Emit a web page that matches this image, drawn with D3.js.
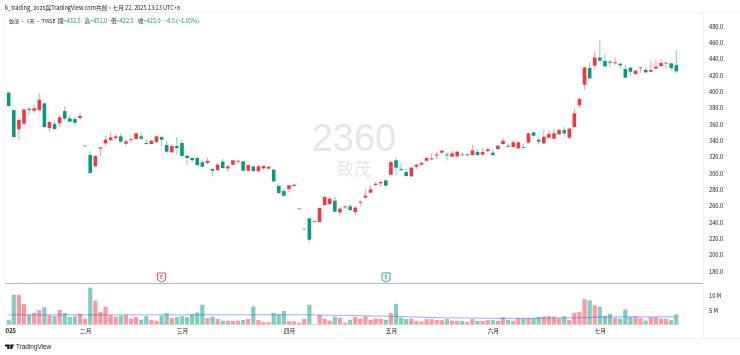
<!DOCTYPE html>
<html><head><meta charset="utf-8">
<style>html,body{margin:0;padding:0;background:#fff}svg{display:block;font-family:"Noto Sans CJK TC","Noto Sans",sans-serif;filter:blur(0.25px)}</style>
<script src="https://cdn.jsdelivr.net/npm/d3@7/dist/d3.min.js"></script>
</head><body><div id="c"></div><script>
const title="k_trading_2025與TradingView.com共創，七月 22, 2025 13:13 UTC+8";
const openP=[398.8,377.5,353.9,360.8,379,376.7,377.5,385.7,355.5,360.4,361.2,376.3,367.3,366.5,367.8,334,322.4,308.6,330.2,336.7,340.8,343.3,345.3,336.3,340.8,342,345.3,337.1,335.9,338.4,344.5,334.7,325.7,333.5,337.1,321.6,318.8,318.8,313.5,312.6,305.3,304,314.3,306.1,310.6,314.3,314.7,303.2,308.5,302.8,306.1,305.7,304.5,284.5,278.3,280.8,284.5,257.1,232.2,244.8,240.4,240.4,261.2,262.4,266.5,252.2,258.3,259.5,252.6,264,270.2,276.3,285.7,287.7,291.4,298.3,315.9,305.3,301.6,296.3,308.1,310.6,315.5,317.1,322,325.3,323.2,320.4,320.8,323.2,322,322.4,326.1,322.8,327.3,325.3,329.8,335.9,333.9,332.2,330.6,332.2,337.6,350.2,341.2,336.7,343.6,342.4,347.8,353,343.6,356.7,383.3,408.6,429,431.9,442,437.6,436.8,434.7,434.3,427.8,429.4,421.7,429,426.9,424.5,428.2,431.4,434.7,434.7,432.5];
const closeP=[382.5,344.5,365.3,378,377.6,379.6,390.2,356.7,362.9,354.3,368.6,367,363.3,362,370.2,334,300.4,321.2,331.8,341.2,344,345.3,338.8,339.2,342,349,342.4,335.9,340,345.3,341.2,326.5,333.5,331,321.2,318.8,316.3,310.2,308.1,315.1,303.2,310.6,306.5,308.6,315.9,315.5,303.2,310.2,302.8,308.5,309,308.1,290.2,275.9,272.6,285.3,286,257.1,232.2,218.7,241.2,257.5,271,269,253,256.7,259.5,255,258,265.3,272.6,280.4,287.3,289.4,284.9,313.9,306.9,304,296.7,306.9,310.6,312.6,318.8,318.3,323.2,327.7,322,324.5,326.5,322.4,323.2,328.1,322.4,326.1,329.4,322.4,333.9,340,332.6,338,338,331.4,349,346.1,338.8,344.9,348.2,349,353,348.9,354.7,373.5,391,429.8,416.3,442,438,431,435.5,435.9,432.3,417.2,424.5,425.7,429.8,423.7,426.5,430.6,435.1,435.5,429,425];
const highP=[400,378.4,367,379.6,380.8,383.7,398,386.5,364.5,363.3,371.4,381.6,371.4,369.4,374.3,334,327.7,322,332.6,345.7,350,348.2,349,341.6,342.9,350.2,350.2,342,340.8,346.1,345.7,339.9,335.9,344.5,340.8,322.4,319.6,320.4,317.1,319.2,306.1,313,318,309.8,316.3,315.9,315.5,311,309.4,309.8,309.4,308.9,304.9,287.7,281.2,285.7,286.9,257.1,232.2,245.7,241.6,258,271.8,270.2,271,258.3,260.8,262.4,261.2,266.9,280.8,285.3,289.4,291,292.2,314.7,319.2,313,305.7,308.1,311.8,314.3,319.6,324.9,326.1,329,325.7,327.7,327.7,325.7,324.5,335.1,329.4,331,331.8,329.4,334.7,342.9,336.7,340.4,338.8,335.9,349.4,351,344,353,353,354.3,354.7,356.7,355.9,379.2,393,430.6,436.3,449,463.3,446.2,438.8,442,435.9,432.7,430.6,426.9,431,430.6,437.6,439.6,439.6,436.3,435.9,451];
const lowP=[380.8,344,340.8,359.2,371.4,373.5,375.5,355.9,351,353.9,357,365.3,362.9,358,364.5,334,300,307,321.2,333.9,338.4,340.8,337.6,333,337.6,341.6,340.8,335.5,335.5,336.7,333,324.5,325.3,322.8,320.8,310.4,313,309.4,307.7,311,295.9,303.2,305.7,301.9,309.8,310.6,302.4,302.4,302,300.8,304.9,304.5,289.4,275,272.2,276.7,283.6,257.1,232.2,215,240,240,260.8,261.6,252.2,248.5,256.3,254.6,249,260,269.4,275.5,284.5,283.6,284.5,297.5,297.5,303.2,295.9,295.5,305.3,309.4,314.3,316.3,317.1,324.1,315.9,319.6,320.4,320.4,321.6,321.6,321.6,322,325.7,322,329.4,334.7,331.8,331.4,329.8,330.6,336.3,344.9,335.5,335.9,342.8,342,346.9,345.7,342,355.9,380.4,402,415.5,427,437.2,430.6,430.6,432.3,427.4,416.3,419.6,420.8,423.3,422.5,424,427.4,430.6,427.4,425.7,422.5];
const volumeM=[1.7,10.3,10.3,7.1,3.4,4.1,5.1,6,3.3,3,5.1,4,2.7,2.9,3.8,2.1,12.8,8.3,4.4,6.2,3.3,2.8,3.1,3.3,2.1,2.7,1.7,3,1.7,1.4,3.1,4,2.3,2.6,3,2.6,3.6,4.2,6.9,2.3,2.8,2,1.4,1.4,1.3,1.4,1.6,2,6.3,1.6,0.9,0.9,4,3.6,4.7,1.2,1.2,0.6,2,6.9,0.25,3.4,2,1.4,2.8,2.4,0.7,1.7,2.7,2.1,2.9,1.7,2.2,2,1.7,4,7.2,2.4,2,2.1,1.3,1,1.9,1.9,1.6,1.6,2,1.4,1.3,1.3,0.9,1.9,1.3,1.3,1.6,1.6,1.3,2.6,1.7,1.3,2.2,2.2,2.2,2.2,2.7,2.9,3,2.8,2.2,2.9,1.6,4.1,4.4,8.8,8.4,6.7,6.2,3,3.7,2.4,2.1,5.2,2.6,2.9,2.3,1.4,2.6,2.6,2.1,2,1.6,3.6];
const maIndex=[0,15,30,45,58,66,75,85,95,105,112,118,125,131];
const maValue=[3.4,3.4,3.4,3.4,3.4,3.2,2.9,2.4,2.2,2.2,2.4,2.7,2.7,2.7];
const priceTicks=[180,200,220,240,260,280,300,320,340,360,380,400,420,440,460,480];
const volTicks=[5,10];
const volTickLabels={5:"5 M",10:"10 M"};
const monthIndex=[0,15,34,55,75,95,116];
const monthLabels=["2025","二月","三月","四月","五月","六月","七月"];
const earningsIndex=[30,74];
const earningsKind=["red","green"];
const legendParts=[["致茂 · 1天 · TWSE",0,9,5.1],["開",0,58,5.6],["=432.5",1,null,5.6],["高",0,84.5,5.6],["=451.0",1,null,5.6],["低",0,111,5.6],["=422.5",1,null,5.6],["收",0,138,5.6],["=425.0",1,null,5.6],["−4.5 (−1.05%)",1,164,5.6]];

const W=740,H=355,UP="#f23645",DOWN="#089981",INK="#131722",FS=5.7;
const svg=d3.select("#c").append("svg").attr("width",W).attr("height",H);
const x=d3.scaleLinear().domain([0,131]).range([8.7,676.3]);
const y=d3.scaleLinear().domain([180,480]).range([271.3,26.4]);
const yv=d3.scaleLinear().domain([0,10]).range([324.7,295.7]);
const n=openP.length, bw=3.6;
svg.append("clipPath").attr("id","pane").append("rect").attr("x",5).attr("y",12).attr("width",698).attr("height",326);
const line=(a,b,c,d,col,w)=>svg.append("line").attr("x1",a).attr("y1",b).attr("x2",c).attr("y2",d).attr("stroke",col).attr("stroke-width",w||1);
line(5,12.5,740,12.5,"#f0f3fa");line(5,12,5,338,"#f0f3fa");
line(703.5,12,703.5,338,"#f0f3fa");line(5,338.5,740,338.5,"#f0f3fa");
line(5,283.5,703,283.5,"#b2b5be",1);

// watermark
svg.append("text").attr("x",354).attr("y",151).attr("text-anchor","middle").attr("font-size",38).attr("font-family","Liberation Sans,Arial,sans-serif").attr("fill","#e6e6e7").text("2360");
svg.append("text").attr("x",354).attr("y",175).attr("text-anchor","middle").attr("font-size",17).attr("fill","#e6e6e7").text("致茂");

// volume
const idx=d3.range(n);
svg.append("g").selectAll("rect").data(idx).join("rect")
 .attr("x",i=>x(i)-2.1).attr("width",4.2)
 .attr("y",i=>yv(volumeM[i])).attr("height",i=>yv(0)-yv(volumeM[i]))
 .attr("fill",i=>closeP[i]>=openP[i]?UP:DOWN).attr("fill-opacity",.5);
svg.append("path").attr("fill","none").attr("stroke","#2962ff").attr("stroke-opacity",.5).attr("stroke-width",1)
 .attr("d",d3.line().x(d=>x(d[0])).y(d=>yv(d[1]))(maIndex.map((m,i)=>[m,maValue[i]])));

// candles
const g=svg.append("g");
g.selectAll("line").data(idx).join("line")
 .attr("x1",i=>x(i)).attr("x2",i=>x(i)).attr("y1",i=>y(highP[i])).attr("y2",i=>y(lowP[i]))
 .attr("stroke",i=>closeP[i]>=openP[i]?UP:DOWN).attr("stroke-opacity",.5).attr("stroke-width",1);
g.selectAll("rect").data(idx).join("rect")
 .attr("x",i=>x(i)-bw/2).attr("width",bw)
 .attr("y",i=>y(Math.max(openP[i],closeP[i])))
 .attr("height",i=>Math.max(.8,Math.abs(y(openP[i])-y(closeP[i]))))
 .attr("fill",i=>closeP[i]>=openP[i]?UP:DOWN);

// earnings
const ePath="M-4,-4.3 H4 V2.7 L0,4.8 L-4,2.7 Z";
earningsIndex.forEach((m,k)=>{
 const c=earningsKind[k]==="red"?"#d6455f":"#2a9d8a";
 const t=svg.append("g").attr("transform",`translate(${[161.5,386][k]},277.3)`);
 t.append("path").attr("d",ePath).attr("fill","#fff").attr("stroke",c).attr("stroke-width",.9);
 t.append("text").attr("y",1.8).attr("text-anchor","middle").attr("font-size",5).attr("font-weight",700).attr("fill",c).text("E");
});

// axes
const pa=svg.append("g").attr("transform","translate(703,0)").call(d3.axisRight(y).tickValues(priceTicks).tickSize(0).tickPadding(6).tickFormat(d3.format(".1f")));
const va=svg.append("g").attr("transform","translate(703,0)").call(d3.axisRight(yv).tickValues(volTicks).tickSize(0).tickPadding(6).tickFormat(d=>volTickLabels[d]));
const ta=svg.append("g").attr("clip-path","url(#pane)").append("g").attr("transform","translate(0,327)").call(d3.axisBottom(x).tickValues(monthIndex).tickSize(0).tickPadding(2).tickFormat((d,i)=>monthLabels[i]));
[pa,va,ta].forEach(a=>{a.select(".domain").remove();a.selectAll("text").attr("font-size",FS).attr("fill",INK).attr("font-family",'"Noto Sans CJK TC","Noto Sans",sans-serif');});
ta.select("text").attr("font-weight",700);

// title & legend
svg.append("text").attr("x",5).attr("y",9.5).attr("font-size",5.6).attr("fill",INK).text(title);
const lg=svg.append("text").attr("y",22.5).attr("xml:space","preserve");
legendParts.forEach(p=>{
 const s=lg.append("tspan").attr("fill",p[1]?DOWN:INK).attr("font-size",p[3]).text(p[0]);
 if(p[2]!==null) s.attr("x",p[2]);
});

// logo
const lo=svg.append("g").attr("transform","translate(5,344.5)");
lo.append("path").attr("fill",INK).attr("d","M0,0H4.5V4.5H2.2V1.9H0Z M4.8,4.5 L6.5,0H9L7,4.5Z");
lo.append("circle").attr("cx",5.8).attr("cy",1).attr("r",.9).attr("fill",INK);
svg.append("text").attr("x",16).attr("y",349.2).attr("font-size",6.4).attr("font-family","Liberation Sans,Arial,sans-serif").attr("fill",INK).text("TradingView");
</script></body></html>
